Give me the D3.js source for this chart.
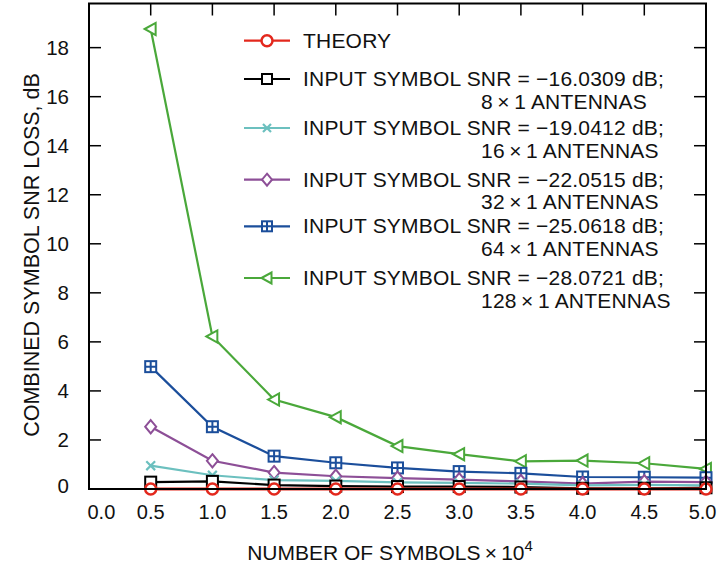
<!DOCTYPE html>
<html>
<head>
<meta charset="utf-8">
<script src="https://cdn.jsdelivr.net/npm/d3@7"></script>
<style>
  html, body { margin: 0; padding: 0; background: #fff; }
  svg { display: block; font-family: "Liberation Sans", Arial, Helvetica, sans-serif; }
</style>
</head>
<body>
<svg id="chart" width="717" height="565"></svg>
<script>
// Number of symbols (×10^4)
const symbols = [0.5, 1.0, 1.5, 2.0, 2.5, 3.0, 3.5, 4.0, 4.5, 5.0];

// Combined symbol SNR loss, dB
const theory   = [0, 0, 0, 0, 0, 0, 0, 0, 0, 0];
const ant8     = [0.28, 0.31, 0.16, 0.12, 0.10, 0.10, 0.08, 0.03, 0.03, 0.05];
const ant16    = [0.95, 0.56, 0.36, 0.33, 0.27, 0.25, 0.22, 0.15, 0.17, 0.15];
const ant32    = [2.54, 1.15, 0.67, 0.52, 0.44, 0.38, 0.31, 0.22, 0.30, 0.28];
const ant64    = [4.99, 2.54, 1.34, 1.07, 0.86, 0.71, 0.64, 0.49, 0.48, 0.46];
const ant128   = [18.76, 6.22, 3.65, 2.93, 1.75, 1.42, 1.13, 1.16, 1.05, 0.82];

const xTicks = [0, 0.5, 1, 1.5, 2, 2.5, 3, 3.5, 4, 4.5, 5];
const yTicks = [0, 2, 4, 6, 8, 10, 12, 14, 16, 18];

const seriesNames = [
  ["THEORY"],
  ["INPUT SYMBOL SNR = \u221216.0309 dB;", "8\u2009\u00d7\u20091 ANTENNAS"],
  ["INPUT SYMBOL SNR = \u221219.0412 dB;", "16\u2009\u00d7\u20091 ANTENNAS"],
  ["INPUT SYMBOL SNR = \u221222.0515 dB;", "32\u2009\u00d7\u20091 ANTENNAS"],
  ["INPUT SYMBOL SNR = \u221225.0618 dB;", "64\u2009\u00d7\u20091 ANTENNAS"],
  ["INPUT SYMBOL SNR = \u221228.0721 dB;", "128\u2009\u00d7\u20091 ANTENNAS"]
];
const seriesValues = [theory, ant8, ant16, ant32, ant64, ant128];
const seriesColors = ["#e3281d", "#000000", "#6cc0bf", "#8d4f97", "#1b4e9b", "#4aa83a"];
const seriesMarkers = ["circle", "square", "cross", "diamond", "boxplus", "triangle"];

const svg = d3.select("#chart");
const plotLeft = 89, plotRight = 706, plotTop = 3.5, plotBottom = 489;

const x = d3.scaleLinear().domain([0, 5]).range([plotLeft, plotRight]);
const y = d3.scaleLinear().domain([0, 19.8]).range([plotBottom, plotTop]);

// inward ticks on all four sides
const tickLen = 12;
const g = svg.append("g");
const xt = xTicks.filter(v => v > 0 && v < 5);
const yt = yTicks.filter(v => v > 0);
g.append("g").selectAll("line").data(xt).join("line")
  .attr("x1", d => x(d)).attr("x2", d => x(d))
  .attr("y1", plotBottom).attr("y2", plotBottom - tickLen)
  .attr("stroke", "#000").attr("stroke-width", 1.5);
g.append("g").selectAll("line").data(xt).join("line")
  .attr("x1", d => x(d)).attr("x2", d => x(d))
  .attr("y1", plotTop).attr("y2", plotTop + tickLen)
  .attr("stroke", "#000").attr("stroke-width", 1.5);
g.append("g").selectAll("line").data(yt).join("line")
  .attr("x1", plotLeft).attr("x2", plotLeft + tickLen)
  .attr("y1", d => y(d)).attr("y2", d => y(d))
  .attr("stroke", "#000").attr("stroke-width", 1.5);
g.append("g").selectAll("line").data(yt).join("line")
  .attr("x1", plotRight).attr("x2", plotRight - tickLen)
  .attr("y1", d => y(d)).attr("y2", d => y(d))
  .attr("stroke", "#000").attr("stroke-width", 1.5);

// tick labels (the end labels are nudged inward so they stay on the page)
svg.append("g").selectAll("text").data(xTicks).join("text")
  .attr("x", d => d === 0 ? x(d) - 1.5 : d === 5 ? 716.5 : x(d))
  .attr("y", 519)
  .attr("text-anchor", d => d === 0 ? "start" : d === 5 ? "end" : "middle")
  .attr("font-size", 20)
  .attr("fill", "#111")
  .text(d => d.toFixed(1));
svg.append("g").selectAll("text").data(yTicks).join("text")
  .attr("x", 69)
  .attr("y", d => y(d) + 7 - (d === 0 ? 3 : 0))
  .attr("text-anchor", "end")
  .attr("font-size", 20.5)
  .attr("fill", "#111")
  .text(d => d);

// axis titles
const xl = svg.append("text")
  .attr("x", 390).attr("y", 560)
  .attr("text-anchor", "middle")
  .attr("font-size", 21)
  .attr("fill", "#111");
xl.append("tspan").text("NUMBER OF SYMBOLS\u2009\u00d7\u200910");
xl.append("tspan").attr("dy", -9).attr("font-size", 15).text("4");

svg.append("text")
  .attr("transform", "translate(39,255) rotate(-90)")
  .attr("text-anchor", "middle")
  .attr("font-size", 21.5)
  .attr("fill", "#111")
  .text("COMBINED SYMBOL SNR LOSS, dB");

// marker shapes
function drawMarker(sel, type, color, size) {
  const s = size / 2;
  if (type === "circle") {
    sel.append("circle").attr("r", 5.5)
      .attr("fill", "#fff").attr("stroke", color).attr("stroke-width", 2.5);
  } else if (type === "square") {
    sel.append("rect").attr("x", -s).attr("y", -s).attr("width", size).attr("height", size)
      .attr("fill", "#fff").attr("stroke", color).attr("stroke-width", 2);
  } else if (type === "cross") {
    sel.append("path").attr("d", `M${-s*0.8},${-s*0.8}L${s*0.8},${s*0.8}M${-s*0.8},${s*0.8}L${s*0.8},${-s*0.8}`)
      .attr("fill", "none").attr("stroke", color).attr("stroke-width", 2.2);
  } else if (type === "diamond") {
    sel.append("path").attr("d", `M0,${-s*1.2}L${s},0L0,${s*1.2}L${-s},0Z`)
      .attr("fill", "#fff").attr("stroke", color).attr("stroke-width", 2);
  } else if (type === "boxplus") {
    sel.append("rect").attr("x", -s).attr("y", -s).attr("width", size).attr("height", size)
      .attr("fill", "#fff").attr("stroke", color).attr("stroke-width", 2);
    sel.append("path").attr("d", `M0,${-s}L0,${s}M${-s},0L${s},0`)
      .attr("stroke", color).attr("stroke-width", 2);
  } else if (type === "triangle") {
    sel.append("path").attr("d", `M${-s*1.1},0L${s*0.9},${-s*1.1}L${s*0.9},${s*1.1}Z`)
      .attr("fill", "#fff").attr("stroke", color).attr("stroke-width", 2);
  }
}

// data series, drawn from the last so that THEORY sits on top
const line = d3.line().x((d, i) => x(symbols[i])).y(d => y(d));
for (let k = seriesValues.length - 1; k >= 0; k--) {
  const vals = seriesValues[k];
  const color = seriesColors[k];
  const sg = svg.append("g");
  sg.append("path").datum(vals)
    .attr("d", line)
    .attr("fill", "none")
    .attr("stroke", color)
    .attr("stroke-width", k === 0 ? 3 : 2.2);
  sg.selectAll("g").data(vals).join("g")
    .attr("transform", (d, i) => `translate(${x(symbols[i])},${y(d)})`)
    .each(function () { drawMarker(d3.select(this), seriesMarkers[k], color, 11); });
}

// frame
svg.append("rect")
  .attr("x", plotLeft).attr("y", plotTop)
  .attr("width", plotRight - plotLeft).attr("height", plotBottom - plotTop)
  .attr("fill", "none").attr("stroke", "#000").attr("stroke-width", 2);

// legend
const legendRows = [47.7, 86, 135, 186.7, 233.3, 285];
const lg = svg.append("g");
seriesNames.forEach((lines, k) => {
  const yb = legendRows[k];
  const ym = yb - 7;
  const row = lg.append("g");
  row.append("line").attr("x1", 244).attr("x2", 290).attr("y1", ym).attr("y2", ym)
    .attr("stroke", seriesColors[k]).attr("stroke-width", 2.2);
  const mk = row.append("g").attr("transform", `translate(267,${ym})`);
  drawMarker(mk, seriesMarkers[k], seriesColors[k], 10);
  row.append("text").attr("x", 303).attr("y", yb)
    .attr("font-size", 21).attr("letter-spacing", 0.2).attr("fill", "#111").text(lines[0]);
  if (lines[1]) {
    row.append("text").attr("x", 481).attr("y", yb + 22.5)
      .attr("font-size", 21).attr("letter-spacing", 0.2).attr("fill", "#111").text(lines[1]);
  }
});
</script>
</body>
</html>
